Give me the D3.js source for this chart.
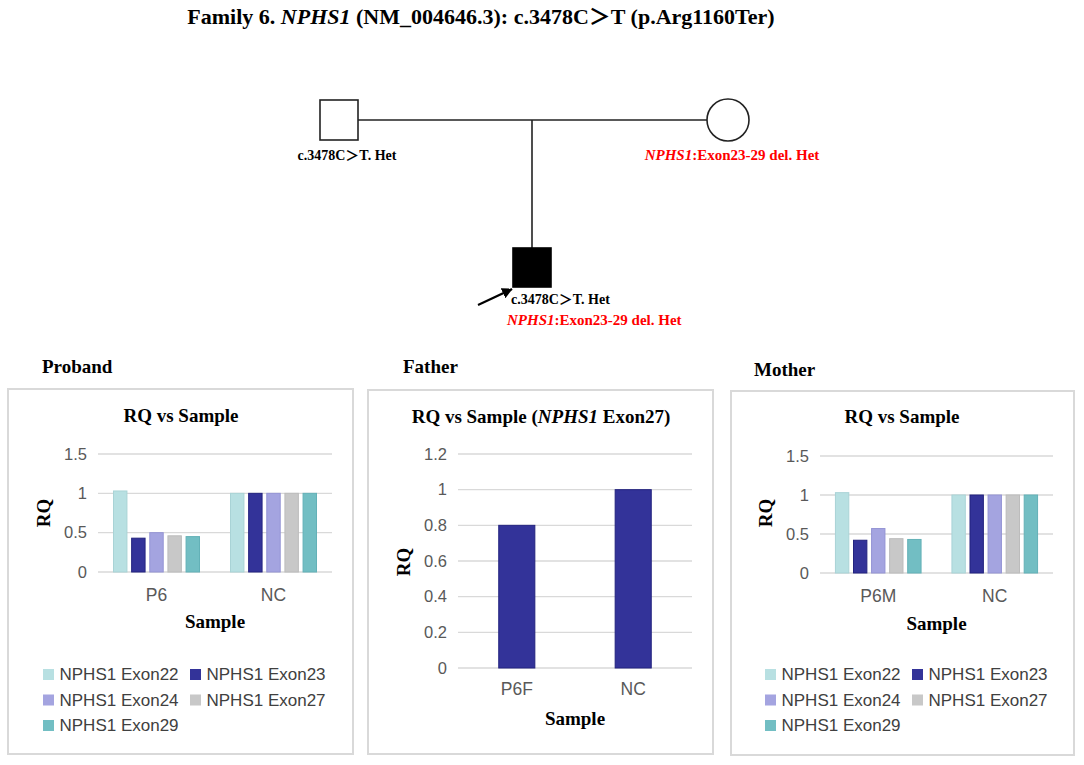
<!DOCTYPE html>
<html>
<head>
<meta charset="utf-8">
<script src="https://cdn.jsdelivr.net/npm/d3@7"></script>
<style>
body{margin:0;background:#fff;}
svg{display:block;}
.serif{font-family:"Times New Roman","Liberation Serif","Noto Sans CJK SC",serif;font-weight:bold;}
.sans{font-family:Arial,"Liberation Sans",sans-serif;}
</style>
</head>
<body>
<svg id="fig" width="1084" height="765"></svg>
<script>
// values
var exons = ["NPHS1 Exon22", "NPHS1 Exon23", "NPHS1 Exon24", "NPHS1 Exon27", "NPHS1 Exon29"];
var exonColors = ["#b8e0e2", "#333399", "#a4a4e0", "#c8c8c8", "#72bec3"];
var exonEdges = ["#a9d3d6", "#23237f", "#9494d4", "#bcbcbc", "#63b1b7"];

var probandSamples = ["P6", "NC"];
var probandRQ = [[1.03, 0.43, 0.50, 0.46, 0.45], [1, 1, 1, 1, 1]];

var fatherSamples = ["P6F", "NC"];
var fatherRQ = [0.80, 1.00];

var motherSamples = ["P6M", "NC"];
var motherRQ = [[1.03, 0.42, 0.57, 0.44, 0.43], [1, 1, 1, 1, 1]];

var ticksRQ = [0, 0.5, 1, 1.5];
var ticksFather = [0, 0.2, 0.4, 0.6, 0.8, 1, 1.2];

var svg = d3.select("#fig");
var sans = 'Arial,"Liberation Sans",sans-serif';

//Title
var title = svg.append("text").attr("class", "serif")
    .attr("x", 481).attr("y", 24)
    .attr("text-anchor", "middle")
    .style("font-size", "22px");
title.append("tspan").text("Family 6. ");
title.append("tspan").style("font-style", "italic").text("NPHS1");
title.append("tspan").text(" (NM_004646.3): c.3478C＞T (p.Arg1160Ter)");

//Pedigree
var ped = svg.append("g").attr("stroke", "#222").attr("stroke-width", 1.6);
ped.append("line").attr("x1", 358).attr("x2", 707).attr("y1", 120).attr("y2", 120);
ped.append("line").attr("x1", 532).attr("x2", 532).attr("y1", 120).attr("y2", 249);
ped.append("rect").attr("x", 320).attr("y", 100).attr("width", 38).attr("height", 40).attr("fill", "#fff");
ped.append("circle").attr("cx", 728).attr("cy", 120).attr("r", 21).attr("fill", "#fff");
ped.append("rect").attr("x", 513).attr("y", 248).attr("width", 38).attr("height", 39).attr("fill", "#000").attr("stroke", "#000");

svg.append("defs").append("marker")
    .attr("id", "arrow").attr("viewBox", "0 0 10 10")
    .attr("refX", 9).attr("refY", 5)
    .attr("markerWidth", 5).attr("markerHeight", 5)
    .attr("orient", "auto")
    .append("path").attr("d", "M0,0 L10,5 L0,10 z").attr("fill", "#000");
svg.append("line").attr("x1", 478).attr("y1", 305).attr("x2", 512).attr("y2", 289)
    .attr("stroke", "#000").attr("stroke-width", 2.2).attr("marker-end", "url(#arrow)");

function hetLabel(x, y, anchor){
    svg.append("text").attr("class", "serif")
        .attr("x", x).attr("y", y).attr("text-anchor", anchor)
        .style("font-size", "14px")
        .text("c.3478C＞T. Het");
}
function delLabel(x, y, anchor){
    var t = svg.append("text").attr("class", "serif")
        .attr("x", x).attr("y", y).attr("text-anchor", anchor)
        .attr("fill", "#ff0000")
        .style("font-size", "15px");
    t.append("tspan").style("font-style", "italic").text("NPHS1");
    t.append("tspan").text(":Exon23-29 del. Het");
}
hetLabel(347, 160, "middle");
delLabel(732, 160, "middle");
hetLabel(511, 304, "start");
delLabel(507, 325, "start");

//Bar chart panels
var panels = [
    {label: "Proband", labelX: 42, labelY: 373, box: [8, 389, 345, 365],
     titleX: 181, titleY: 422, samples: probandSamples, values: probandRQ, ticks: ticksRQ,
     left: 98, right: 332, top: 454, bottom: 572, padIn: 0.265, padOut: 0.1325,
     catPad: 17, sampleY: 628, rqX: 43, rqY: 513, legendX: 43, legendY: 680},
    {label: "Father", labelX: 403, labelY: 373, box: [368, 390, 345, 364],
     titleX: 541, titleY: 423, samples: fatherSamples, values: fatherRQ, ticks: ticksFather,
     left: 458, right: 692, top: 454, bottom: 668, padIn: 0.69, padOut: 0.35,
     catPad: 15, sampleY: 725, rqX: 403, rqY: 562, italicTitle: true},
    {label: "Mother", labelX: 754, labelY: 376, box: [731, 391, 343, 364],
     titleX: 902, titleY: 423, samples: motherSamples, values: motherRQ, ticks: ticksRQ,
     left: 820, right: 1053, top: 456, bottom: 573, padIn: 0.265, padOut: 0.1325,
     catPad: 17, sampleY: 630, rqX: 765, rqY: 513, legendX: 765, legendY: 680}
];

panels.forEach(function(p){
    var g = svg.append("g");

    g.append("text").attr("class", "serif")
        .attr("x", p.labelX).attr("y", p.labelY)
        .style("font-size", "19px").text(p.label);

    g.append("rect")
        .attr("x", p.box[0]).attr("y", p.box[1])
        .attr("width", p.box[2]).attr("height", p.box[3])
        .attr("fill", "none").attr("stroke", "#d9d9d9").attr("stroke-width", 2);

    var t = g.append("text").attr("class", "serif")
        .attr("x", p.titleX).attr("y", p.titleY)
        .attr("text-anchor", "middle").style("font-size", "19px");
    if(p.italicTitle){
        t.append("tspan").text("RQ vs Sample (");
        t.append("tspan").style("font-style", "italic").text("NPHS1");
        t.append("tspan").text(" Exon27)");
    }else{
        t.text("RQ vs Sample");
    }

    var ymax = p.ticks[p.ticks.length - 1];
    var y = d3.scaleLinear().domain([0, ymax]).range([p.bottom, p.top]);
    var x0 = d3.scaleBand().domain(p.samples).range([p.left, p.right])
        .paddingInner(p.padIn).paddingOuter(p.padOut);

    g.selectAll("line.grid").data(p.ticks).join("line")
        .attr("class", "grid")
        .attr("x1", p.left).attr("x2", p.right)
        .attr("y1", function(d){ return y(d); })
        .attr("y2", function(d){ return y(d); })
        .attr("stroke", "#d9d9d9").attr("stroke-width", 1.3);

    var ya = g.append("g").attr("transform", "translate(" + p.left + ",0)")
        .call(d3.axisLeft(y).tickValues(p.ticks).tickSize(0).tickPadding(11).tickFormat(function(d){ return String(d); }));
    ya.select(".domain").remove();
    ya.selectAll("text").style("font-family", sans).style("font-size", "16.5px").attr("fill", "#595959");

    if(Array.isArray(p.values[0])){
        var x1 = d3.scaleBand().domain(d3.range(exons.length)).range([0, x0.bandwidth()]).paddingInner(0.26);
        p.samples.forEach(function(s, si){
            g.selectAll("rect.bar" + si).data(p.values[si]).join("rect")
                .attr("class", "bar" + si)
                .attr("x", function(d, i){ return x0(s) + x1(i); })
                .attr("y", function(d){ return y(d); })
                .attr("width", x1.bandwidth())
                .attr("height", function(d){ return y(0) - y(d); })
                .attr("fill", function(d, i){ return exonColors[i]; })
                .attr("stroke", function(d, i){ return exonEdges[i]; })
                .attr("stroke-width", 1);
        });
    }else{
        g.selectAll("rect.bar").data(p.values).join("rect")
            .attr("class", "bar")
            .attr("x", function(d, i){ return x0(p.samples[i]); })
            .attr("y", function(d){ return y(d); })
            .attr("width", x0.bandwidth())
            .attr("height", function(d){ return y(0) - y(d); })
            .attr("fill", exonColors[1])
            .attr("stroke", exonEdges[1]).attr("stroke-width", 1);
    }

    var xa = g.append("g").attr("transform", "translate(0," + p.bottom + ")")
        .call(d3.axisBottom(x0).tickSize(0).tickPadding(p.catPad));
    xa.select(".domain").remove();
    xa.selectAll("text").style("font-family", sans).style("font-size", "17.5px").attr("fill", "#595959");

    g.append("text").attr("class", "serif")
        .attr("x", (p.left + p.right) / 2).attr("y", p.sampleY)
        .attr("text-anchor", "middle").style("font-size", "19px").text("Sample");

    g.append("text").attr("class", "serif")
        .attr("transform", "translate(" + p.rqX + "," + p.rqY + ") rotate(-90)")
        .attr("text-anchor", "middle").attr("dy", "0.35em")
        .style("font-size", "19px").text("RQ");

    if(p.legendX !== undefined){
        var items = g.selectAll("g.leg").data(exons).join("g")
            .attr("class", "leg")
            .attr("transform", function(d, i){
                return "translate(" + (p.legendX + (i % 2) * 147) + "," + (p.legendY + Math.floor(i / 2) * 25.5) + ")";
            });
        items.append("rect").attr("x", 0).attr("y", -11).attr("width", 11).attr("height", 11)
            .attr("fill", function(d, i){ return exonColors[i]; });
        items.append("text").attr("x", 16.5).attr("y", 0)
            .style("font-family", sans).style("font-size", "17px").attr("fill", "#404040")
            .text(function(d){ return d; });
    }
});
</script>
</body>
</html>
